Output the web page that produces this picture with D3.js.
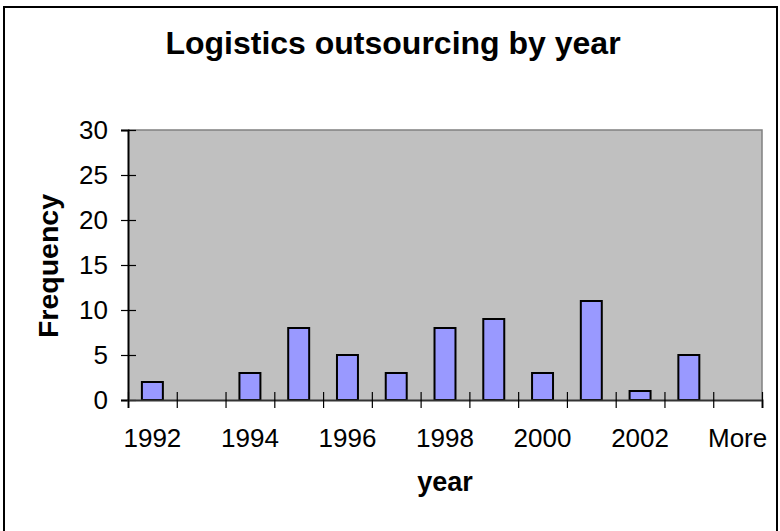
<!DOCTYPE html>
<html>
<head>
<meta charset="utf-8">
<script src="https://cdn.jsdelivr.net/npm/d3@7"></script>
<style>
  html, body { margin: 0; padding: 0; background: #fff; }
  svg { display: block; }
  text { font-family: "Liberation Sans", Arial, Helvetica, sans-serif; fill: #000; }
</style>
</head>
<body>
<svg id="chart" width="780" height="531"></svg>
<script>
// ---- data ----
const categories = ["1992","1993","1994","1995","1996","1997","1998","1999","2000","2001","2002","2003","More"];
const frequency  = [2, 0, 3, 8, 5, 3, 8, 9, 3, 11, 1, 5, 0];
const xTickLabels = ["1992","1994","1996","1998","2000","2002","More"];
const yTicks = [0, 5, 10, 15, 20, 25, 30];
const title = "Logistics outsourcing by year";
const xTitle = "year";
const yTitle = "Frequency";

// ---- layout ----
const W = 780, H = 531;
const plot = { left: 128, right: 762, top: 130, bottom: 400 };

const svg = d3.select("#chart");

// chart frame (clipped at bottom like the reference)
svg.append("path")
  .attr("d", `M4,${H + 2} L4,7 L777,7 L777,${H + 2}`)
  .attr("fill", "none").attr("stroke", "#000").attr("stroke-width", 2);

// scales
const x = d3.scaleBand().domain(categories)
  .range([plot.left, plot.right]).paddingInner(0.57).paddingOuter(0.285);
const xEdge = d3.scaleLinear().domain([0, categories.length]).range([plot.left, plot.right]);
const y = d3.scaleLinear().domain([0, 30]).range([plot.bottom, plot.top]);

// plot background
svg.append("rect")
  .attr("x", plot.left).attr("y", plot.top)
  .attr("width", plot.right - plot.left).attr("height", plot.bottom - plot.top)
  .attr("fill", "#C0C0C0");
// top and right border
svg.append("path")
  .attr("d", `M${plot.left},${plot.top} L${plot.right},${plot.top} L${plot.right},${plot.bottom}`)
  .attr("fill", "none").attr("stroke", "#808080").attr("stroke-width", 1.5);

// bars
svg.append("g").selectAll("rect")
  .data(categories.map((c, i) => ({ c, v: frequency[i] })).filter(d => d.v > 0))
  .join("rect")
  .attr("x", d => x(d.c))
  .attr("y", d => y(d.v))
  .attr("width", x.bandwidth())
  .attr("height", d => y(0) - y(d.v))
  .attr("fill", "#9999FF")
  .attr("stroke", "#000")
  .attr("stroke-width", 2);

// y axis
const yAxis = svg.append("g")
  .attr("transform", `translate(${plot.left},0)`)
  .call(d3.axisLeft(y).tickValues(yTicks).tickSize(7).tickPadding(13));
yAxis.select(".domain").attr("stroke", "#000").attr("stroke-width", 2);
yAxis.selectAll(".tick line").attr("x2", 8).attr("x1", -7).attr("stroke", "#000").attr("stroke-width", 1.2);
yAxis.selectAll(".tick text")
  .attr("font-size", 26).attr("font-family", "'Liberation Sans', Arial, sans-serif").attr("fill", "#000");

// x axis: boundary ticks (cross)
const xTickAxis = svg.append("g")
  .attr("transform", `translate(0,${plot.bottom})`)
  .call(d3.axisBottom(xEdge).tickValues(d3.range(0, categories.length + 1)).tickSize(8).tickFormat(""));
xTickAxis.select(".domain").attr("stroke", "#333").attr("stroke-width", 2);
xTickAxis.selectAll(".tick line").attr("y1", -8).attr("y2", 8).attr("stroke", "#000").attr("stroke-width", 1.2);

// x axis labels
const xLabelAxis = svg.append("g")
  .attr("transform", `translate(0,${plot.bottom})`)
  .call(d3.axisBottom(x).tickValues(xTickLabels).tickSize(0).tickPadding(29));
xLabelAxis.select(".domain").remove();
xLabelAxis.selectAll(".tick text")
  .attr("font-size", 26).attr("font-family", "'Liberation Sans', Arial, sans-serif").attr("fill", "#000");

// titles
svg.append("text")
  .attr("x", 393).attr("y", 54)
  .attr("text-anchor", "middle")
  .attr("font-size", 32).attr("font-weight", "bold")
  .text(title);

svg.append("text")
  .attr("x", (plot.left + plot.right) / 2).attr("y", 491)
  .attr("text-anchor", "middle")
  .attr("font-size", 27).attr("font-weight", "bold")
  .text(xTitle);

svg.append("text")
  .attr("transform", `translate(58,266) rotate(-90)`)
  .attr("text-anchor", "middle")
  .attr("font-size", 28.5).attr("font-weight", "bold")
  .text(yTitle);
</script>
</body>
</html>
